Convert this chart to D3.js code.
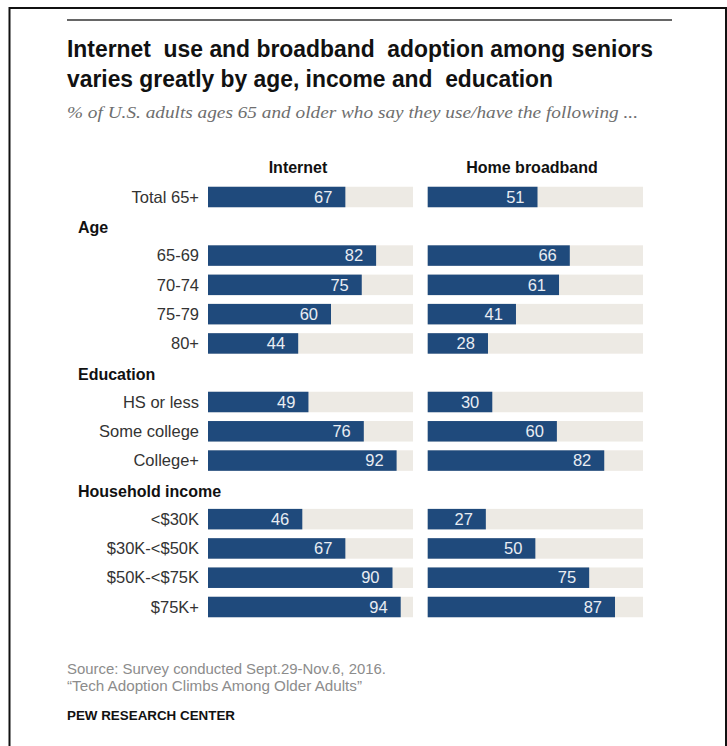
<!DOCTYPE html>
<html>
<head>
<meta charset="utf-8">
<script src="https://cdn.jsdelivr.net/npm/d3@7"></script>
<style>
  body { margin: 0; background: #fff; }
  svg text { font-family: "Liberation Sans", Arial, sans-serif; }
</style>
</head>
<body>
<script>
// data
const categories = ["Total 65+", "65-69", "70-74", "75-79", "80+", "HS or less", "Some college", "College+", "<$30K", "$30K-<$50K", "$50K-<$75K", "$75K+"];
const categoryGroup = [null, "Age", "Age", "Age", "Age", "Education", "Education", "Education", "Household income", "Household income", "Household income", "Household income"];
const internet = [67, 82, 75, 60, 44, 49, 76, 92, 46, 67, 90, 94];
const broadband = [51, 66, 61, 41, 28, 30, 60, 82, 27, 50, 75, 87];
const seriesNames = ["Internet", "Home broadband"];

const width = 727, height = 746;
const barColor = "#1f4a7c", trackColor = "#edeae4";

const svg = d3.select("body").append("svg")
  .attr("width", width)
  .attr("height", height);

// frame
svg.append("path")
  .attr("d", `M9.5,${height} V8 H726 V${height}`)
  .attr("fill", "none")
  .attr("stroke", "#111")
  .attr("stroke-width", 2);

// rule above title
svg.append("line")
  .attr("x1", 67).attr("x2", 672)
  .attr("y1", 20).attr("y2", 20)
  .attr("stroke", "#333")
  .attr("stroke-width", 1.5);

// title (the double spaces are in the original)
const title = svg.append("g")
  .attr("font-weight", "bold")
  .attr("font-size", 23)
  .attr("fill", "#111");
title.append("text").attr("x", 67).attr("y", 57)
  .attr("textLength", 586).attr("lengthAdjust", "spacingAndGlyphs")
  .text("Internet \u00a0use and broadband \u00a0adoption among seniors");
title.append("text").attr("x", 67).attr("y", 87)
  .attr("textLength", 486).attr("lengthAdjust", "spacingAndGlyphs")
  .text("varies greatly by age, income and \u00a0education");

svg.append("text")
  .attr("x", 67).attr("y", 118)
  .style("font-family", "'Liberation Serif', 'DejaVu Serif', serif")
  .attr("font-style", "italic")
  .attr("font-size", 17)
  .attr("fill", "#6e6e6e")
  .attr("textLength", 571).attr("lengthAdjust", "spacingAndGlyphs")
  .text("% of U.S. adults ages 65 and older who say they use/have the following ...");

// rows: a group header goes in before the first category of each group
const rows = [];
categories.forEach((c, i) => {
  const g = categoryGroup[i];
  if (g && categoryGroup[i - 1] !== g) rows.push({ key: "h:" + g, label: g, header: true });
  rows.push({ key: c, label: c, header: false, values: [internet[i], broadband[i]] });
});

const y = d3.scalePoint()
  .domain(rows.map(d => d.key))
  .range([197, 607]);
const barH = 20.5;

const xScales = [
  d3.scaleLinear().domain([0, 100]).range([208, 413]),
  d3.scaleLinear().domain([0, 100]).range([427.7, 643])
];
const headerX = [298, 532];

// column headers
svg.selectAll(".colhead")
  .data(seriesNames)
  .join("text")
  .attr("class", "colhead")
  .attr("x", (d, i) => headerX[i])
  .attr("y", 173)
  .attr("text-anchor", "middle")
  .attr("font-weight", "bold")
  .attr("font-size", 16)
  .attr("fill", "#111")
  .text(d => d);

// group headers
svg.selectAll(".grouphead")
  .data(rows.filter(d => d.header))
  .join("text")
  .attr("class", "grouphead")
  .attr("x", 78)
  .attr("y", d => y(d.key) + 7)
  .attr("font-weight", "bold")
  .attr("font-size", 16)
  .attr("fill", "#111")
  .text(d => d.label);

const dataRows = rows.filter(d => !d.header);

// category labels
svg.selectAll(".cat")
  .data(dataRows)
  .join("text")
  .attr("class", "cat")
  .attr("x", 199)
  .attr("y", d => y(d.key))
  .attr("dy", "0.35em")
  .attr("text-anchor", "end")
  .attr("font-size", 16.5)
  .attr("fill", "#333")
  .text(d => d.label);

xScales.forEach((x, s) => {
  const col = svg.append("g");
  col.selectAll(".track")
    .data(dataRows)
    .join("rect")
    .attr("x", x(0))
    .attr("y", d => y(d.key) - barH / 2)
    .attr("width", x(100) - x(0))
    .attr("height", barH)
    .attr("fill", trackColor);
  col.selectAll(".bar")
    .data(dataRows)
    .join("rect")
    .attr("x", x(0))
    .attr("y", d => y(d.key) - barH / 2)
    .attr("width", d => x(d.values[s]) - x(0))
    .attr("height", barH)
    .attr("fill", barColor);
  col.selectAll(".val")
    .data(dataRows)
    .join("text")
    .attr("x", d => x(d.values[s]) - 13)
    .attr("y", d => y(d.key))
    .attr("dy", "0.35em")
    .attr("text-anchor", "end")
    .attr("font-size", 16.5)
    .attr("fill", "#e9edf3")
    .text(d => d.values[s]);
});

// footer
const foot = svg.append("g").attr("font-size", 14);
foot.append("text").attr("x", 67).attr("y", 674)
  .attr("fill", "#8c8c8c")
  .attr("textLength", 319).attr("lengthAdjust", "spacingAndGlyphs")
  .text("Source: Survey conducted Sept.29-Nov.6, 2016.");
foot.append("text").attr("x", 67).attr("y", 690.5)
  .attr("fill", "#8c8c8c")
  .attr("textLength", 295).attr("lengthAdjust", "spacingAndGlyphs")
  .text("\u201cTech Adoption Climbs Among Older Adults\u201d");
foot.append("text").attr("x", 67).attr("y", 720)
  .attr("fill", "#111")
  .attr("font-weight", "bold")
  .attr("font-size", 13.5)
  .attr("textLength", 168).attr("lengthAdjust", "spacingAndGlyphs")
  .text("PEW RESEARCH CENTER");
</script>
</body>
</html>
